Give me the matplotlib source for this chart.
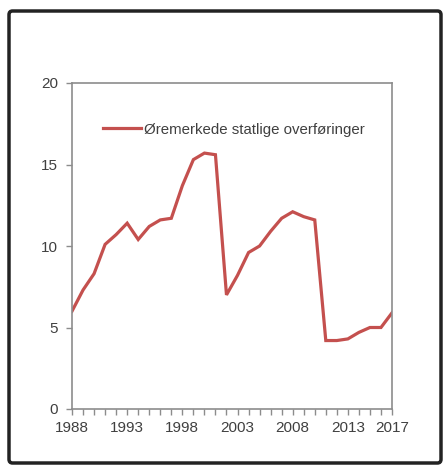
import matplotlib
matplotlib.use("Agg")
import matplotlib.pyplot as plt
from matplotlib.patches import FancyBboxPatch

plt.rcParams["font.family"] = ["Liberation Sans", "DejaVu Sans"]

years = list(range(1988, 2018))
transfers = [6.0, 7.3, 8.3, 10.1, 10.7, 11.4, 10.4, 11.2, 11.6, 11.7,
             13.7, 15.3, 15.7, 15.6, 7.0, 8.2, 9.6, 10.0, 10.9, 11.7,
             12.1, 11.8, 11.6, 4.2, 4.2, 4.3, 4.7, 5.0, 5.0, 5.9]
year_labels = [1988, 1993, 1998, 2003, 2008, 2013, 2017]
y_ticks = [0, 5, 10, 15, 20]

# figure and plot space
fig = plt.figure(figsize=(4.43, 4.68), dpi=100)
ax = fig.add_axes([72 / 443, 1 - 409 / 468, (392 - 72) / 443, (409 - 83) / 468])

ax.plot(years, transfers, color="#C4504E", linewidth=2.3,
        label="Øremerkede statlige overføringer", solid_joinstyle="miter")

ax.set_xlim(1988, 2017)
ax.set_ylim(0, 20)
ax.set_yticks(y_ticks)
ax.set_xticks(year_labels)
ax.set_xticks(years, minor=True)

for side in ["left", "right", "top", "bottom"]:
    ax.spines[side].set_color("#8c8c8c")
    ax.spines[side].set_linewidth(1.2)

ax.tick_params(axis="both", which="both", direction="out", color="#8c8c8c",
               labelcolor="#404040", labelsize=11, width=1.0)
ax.tick_params(axis="x", which="major", length=4, pad=5)
ax.tick_params(axis="x", which="minor", length=4)
ax.tick_params(axis="y", which="major", length=4, pad=6)

ax.legend(loc="upper left", bbox_to_anchor=(0.055, 0.92), frameon=False,
          fontsize=10.8, handlelength=2.5, handletextpad=0.25,
          labelcolor="#404040")

# outer frame around the whole chart
frame = FancyBboxPatch((9 / 443, 5 / 468), (441 - 9) / 443, (457 - 5) / 468,
                       boxstyle="round,pad=0,rounding_size=0.008",
                       transform=fig.transFigure, fill=False,
                       edgecolor="#222222", linewidth=2.5)
fig.patches.append(frame)

fig.savefig("out.png", dpi=100)
